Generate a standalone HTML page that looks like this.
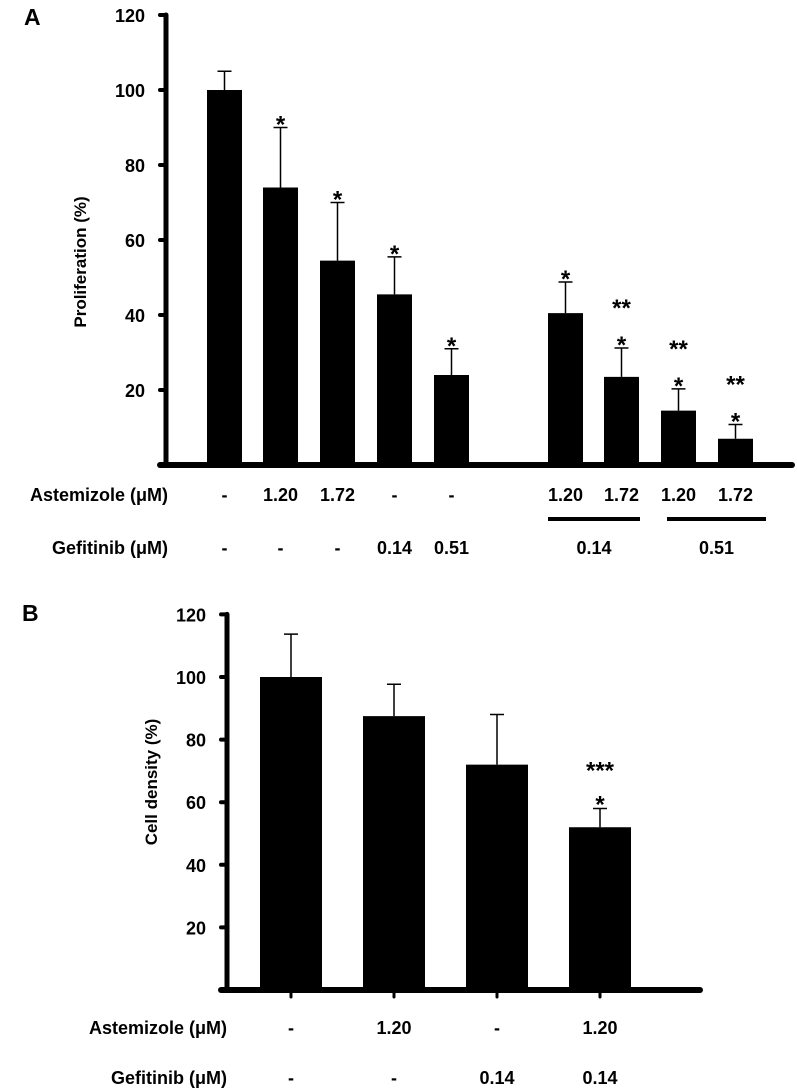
<!DOCTYPE html>
<html><head><meta charset="utf-8"><style>
html,body{margin:0;padding:0;background:#fff;}
svg{display:block;font-family:"Liberation Sans",Arial,sans-serif;font-weight:bold;}
</style></head><body>
<svg id="chart" width="797" height="1088" viewBox="0 0 797 1088" xmlns="http://www.w3.org/2000/svg">
<g id="pa"></g>
<g id="pb"></g>
</svg>
<script>
const aValues=[100,74,54.5,45.5,24,40.5,23.5,14.5,7];
const aErrors=[5,16,15.5,10,7,8.3,7.7,5.8,3.8];
const aStars=["","*","*","*","*","*","*","*","*"];
const aStars2=["","","","","","","**","**","**"];
const aAstem=["-","1.20","1.72","-","-","1.20","1.72","1.20","1.72"];
const aGefit=["-","-","-","0.14","0.51"];
const aTicks=[20,40,60,80,100,120];
const bValues=[100,87.5,72,52];
const bErrors=[13.7,10.2,16,6];
const bStars=["","","","*"];
const bStars2=["","","","***"];
const bAstem=["-","1.20","-","1.20"];
const bGefit=["-","-","0.14","0.14"];
const bTicks=[20,40,60,80,100,120];

const NS="http://www.w3.org/2000/svg";
const FS=18, SS=24;
function mk(parent,tag,attrs,text){const e=document.createElementNS(NS,tag);for(const k in attrs)e.setAttribute(k,attrs[k]);if(text!==undefined)e.textContent=text;parent.appendChild(e);return e;}

// Panel A
const pa=document.getElementById('pa');
const aZero=465,aScale=3.75,aAxisX=166;
const aBarX=[207,263,320,377,434,548,604,661,718],aBarW=35;
function ay(v){return aZero-v*aScale;}
let t=mk(pa,'text',{x:24,y:25,'font-size':23},'A');


let ax=mk(pa,'line',{x1:aAxisX,y1:ay(120),x2:aAxisX,y2:aZero,stroke:'#000','stroke-width':5,'stroke-linecap':'round'});


let xx=mk(pa,'line',{x1:aAxisX-6,y1:aZero,x2:792,y2:aZero,stroke:'#000','stroke-width':6,'stroke-linecap':'round'});


aTicks.forEach(v=>{
  let tk=mk(pa,'line',{x1:aAxisX-6,y1:ay(v),x2:aAxisX,y2:ay(v),stroke:'#000','stroke-width':4,'stroke-linecap':'round'});
  
  
  let lb=mk(pa,'text',{x:aAxisX-21,y:ay(v)+7,'font-size':FS,'text-anchor':'end'},String(v));
  
  
});
let yt=mk(pa,'text',{x:0,y:0,'font-size':17,'text-anchor':'middle',transform:'translate(86,262) rotate(-90)'},'Proliferation  (%)');


aValues.forEach((v,i)=>{
  const cx=aBarX[i]+aBarW/2;
  let b=mk(pa,'rect',{x:aBarX[i],y:ay(v),width:aBarW,height:aZero-ay(v),fill:'#000'});
  
  
  const top=ay(v+aErrors[i]);
  let e=mk(pa,'path',{d:`M${cx},${ay(v)}V${top}M${cx-7},${top}H${cx+7}`,stroke:'#000','stroke-width':1.5,fill:'none'});
  
  
  if(aStars[i]){let s=mk(pa,'text',{x:cx,y:top+5,'font-size':SS,'text-anchor':'middle'},aStars[i]);
    
    }
  if(aStars2[i]){let s=mk(pa,'text',{x:cx,y:top-32,'font-size':SS,'text-anchor':'middle'},aStars2[i]);
    
    }
  let l=mk(pa,'text',{x:cx,y:501,'font-size':FS,'text-anchor':'middle'},aAstem[i]);
  
  
});
aGefit.forEach((g,i)=>{
  let l=mk(pa,'text',{x:aBarX[i]+aBarW/2,y:554,'font-size':FS,'text-anchor':'middle'},g);
  
  
});
[[548,640,'0.14'],[667,766,'0.51']].forEach(([x1,x2,g])=>{
  let ln=mk(pa,'line',{x1:x1,y1:519,x2:x2,y2:519,stroke:'#000','stroke-width':4});
  
  
  let l=mk(pa,'text',{x:(x1+x2)/2,y:554,'font-size':FS,'text-anchor':'middle'},g);
  
  
});
let la=mk(pa,'text',{x:168,y:501,'font-size':FS,'text-anchor':'end'},'Astemizole (μM)');


let lg=mk(pa,'text',{x:168,y:554,'font-size':FS,'text-anchor':'end'},'Gefitinib (μM)');



// Panel B
const pb=document.getElementById('pb');
const bZero=990,bScale=3.13,bAxisX=227;
const bBarX=[260,363,466,569],bBarW=62;
function by(v){return bZero-v*bScale;}
t=mk(pb,'text',{x:22,y:621,'font-size':23},'B');


ax=mk(pb,'line',{x1:bAxisX,y1:by(120),x2:bAxisX,y2:bZero,stroke:'#000','stroke-width':5,'stroke-linecap':'round'});


xx=mk(pb,'line',{x1:bAxisX-6,y1:bZero,x2:700,y2:bZero,stroke:'#000','stroke-width':6,'stroke-linecap':'round'});


bTicks.forEach(v=>{
  let tk=mk(pb,'line',{x1:bAxisX-6,y1:by(v),x2:bAxisX,y2:by(v),stroke:'#000','stroke-width':4,'stroke-linecap':'round'});
  
  
  let lb=mk(pb,'text',{x:bAxisX-21,y:by(v)+7,'font-size':FS,'text-anchor':'end'},String(v));
  
  
});
yt=mk(pb,'text',{x:0,y:0,'font-size':17,'text-anchor':'middle',transform:'translate(157,782) rotate(-90)'},'Cell density  (%)');


bValues.forEach((v,i)=>{
  const cx=bBarX[i]+bBarW/2;
  let b=mk(pb,'rect',{x:bBarX[i],y:by(v),width:bBarW,height:bZero-by(v),fill:'#000'});
  
  
  const top=by(v+bErrors[i]);
  let e=mk(pb,'path',{d:`M${cx},${by(v)}V${top}M${cx-7},${top}H${cx+7}`,stroke:'#000','stroke-width':1.5,fill:'none'});
  
  
  let tk=mk(pb,'line',{x1:cx,y1:bZero,x2:cx,y2:bZero+7,stroke:'#000','stroke-width':3,'stroke-linecap':'round'});
  
  
  if(bStars[i]){let s=mk(pb,'text',{x:cx,y:top+4,'font-size':SS,'text-anchor':'middle'},bStars[i]);
    
    }
  if(bStars2[i]){let s=mk(pb,'text',{x:cx,y:top-30,'font-size':SS,'text-anchor':'middle'},bStars2[i]);
    
    }
  let l=mk(pb,'text',{x:cx,y:1034,'font-size':FS,'text-anchor':'middle'},bAstem[i]);
  
  
  let g=mk(pb,'text',{x:cx,y:1084,'font-size':FS,'text-anchor':'middle'},bGefit[i]);
  
  
});
la=mk(pb,'text',{x:227,y:1034,'font-size':FS,'text-anchor':'end'},'Astemizole (μM)');


lg=mk(pb,'text',{x:227,y:1084,'font-size':FS,'text-anchor':'end'},'Gefitinib (μM)');


</script>
</body></html>
